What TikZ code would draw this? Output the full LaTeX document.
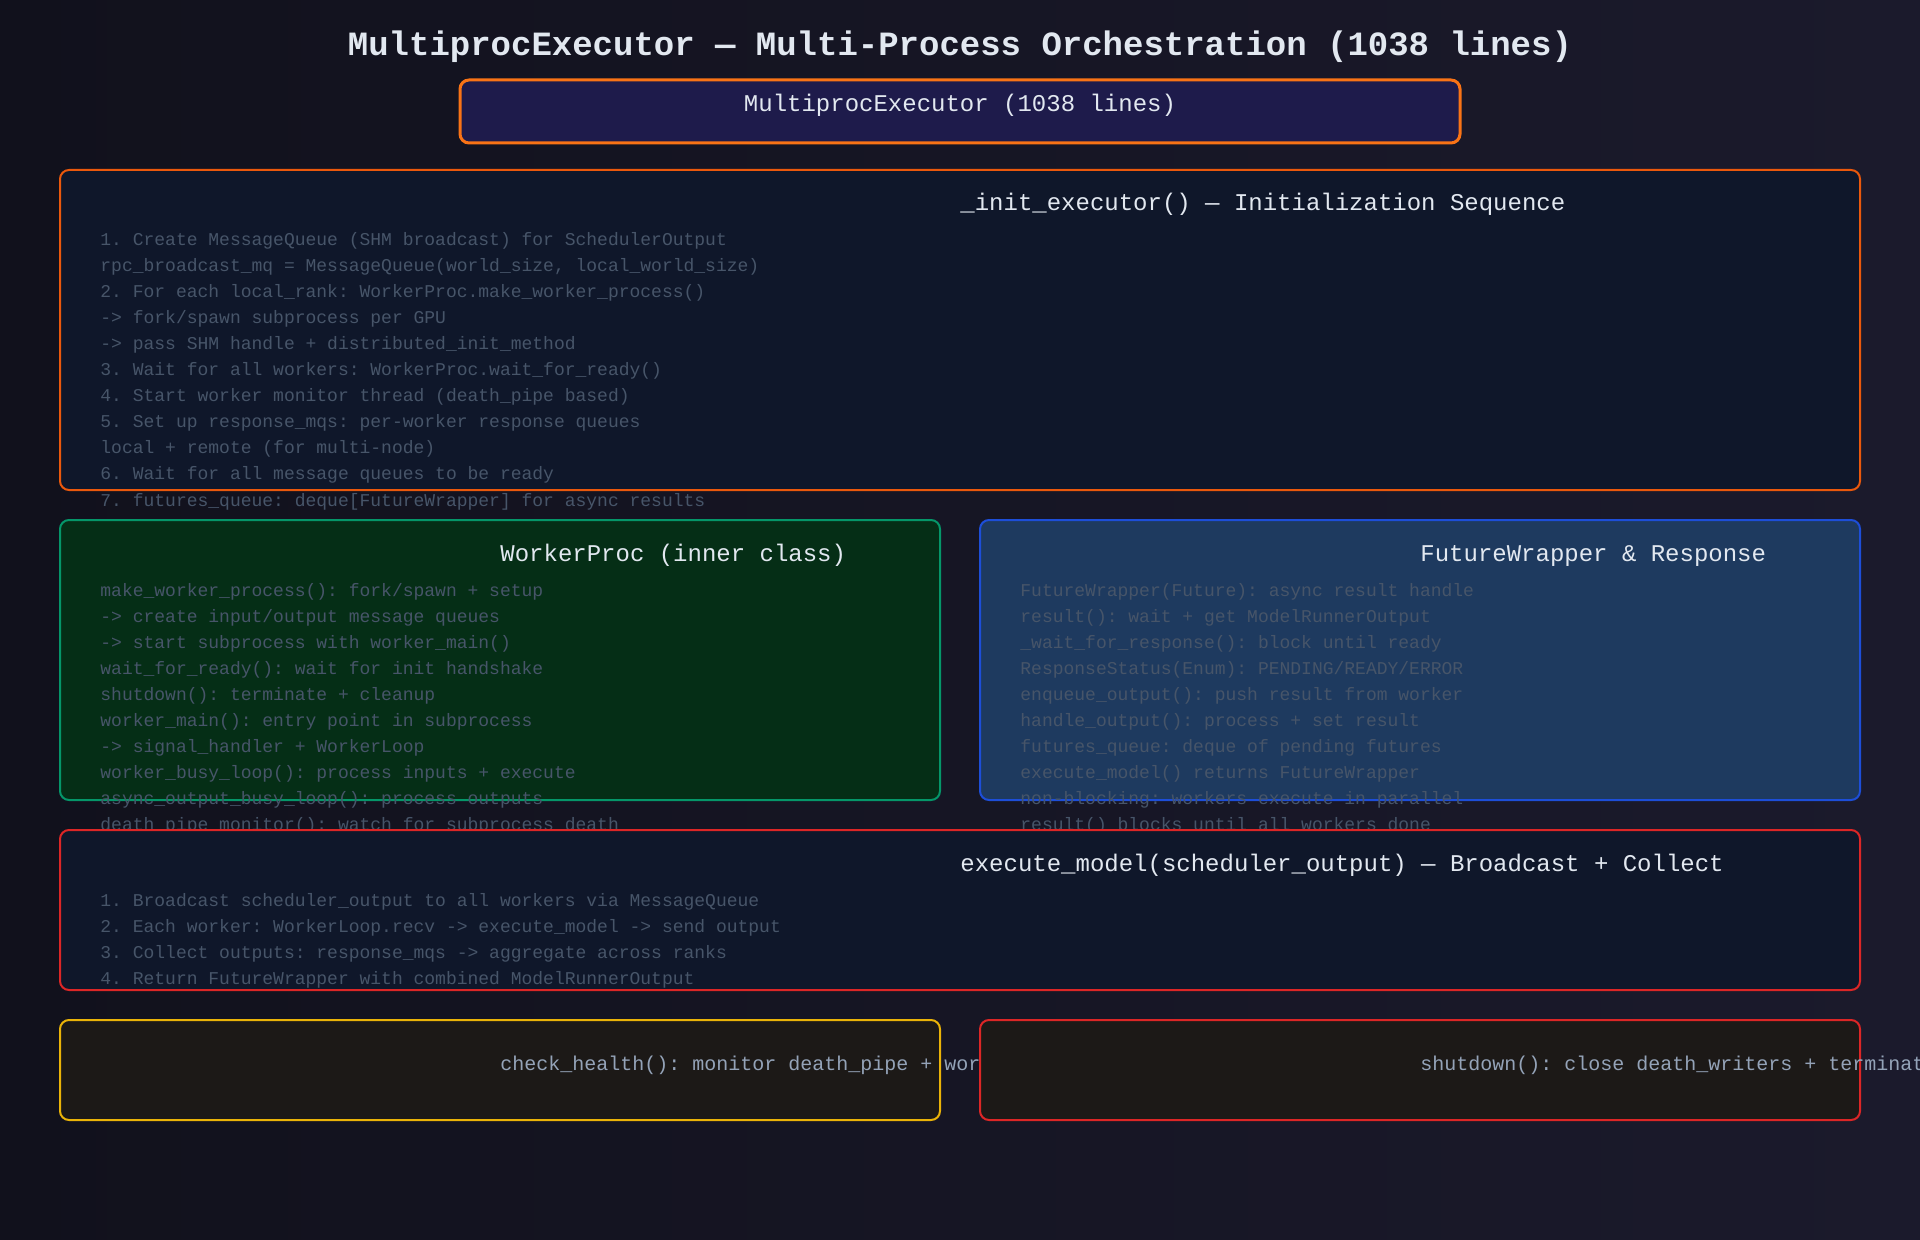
\documentclass[tikz,border=0pt]{standalone}
\usepackage{fontspec}
\setmonofont{Liberation Mono}
\newfontfamily\codefont{Liberation Mono}
\usetikzlibrary{positioning}
\frenchspacing

\definecolor{bgA}{HTML}{11111C}
\definecolor{bgB}{HTML}{1B1A2C}
\definecolor{orangeA}{HTML}{F97316}
\definecolor{orangeB}{HTML}{EA580C}
\definecolor{indigoFill}{HTML}{1E1B4B}
\definecolor{navyFill}{HTML}{0F172A}
\definecolor{greenFill}{HTML}{052E16}
\definecolor{greenLine}{HTML}{059669}
\definecolor{blueFill}{HTML}{1E3A5F}
\definecolor{blueLine}{HTML}{1D4ED8}
\definecolor{redLine}{HTML}{DC2626}
\definecolor{yellowLine}{HTML}{EAB308}
\definecolor{stoneFill}{HTML}{1C1917}
\definecolor{titleTxt}{HTML}{E2E8F0}
\definecolor{listTxt}{HTML}{475569}
\definecolor{noteTxt}{HTML}{94A3B8}

\tikzset{
  panel/.style={rounded corners=4.5pt, line width=1pt},
  paneltitle/.style={anchor=base west, inner sep=0pt, text=titleTxt, font=\codefont\fontsize{12}{14}\selectfont},
  listline/.style={anchor=base west, inner sep=0pt, text=listTxt, font=\codefont\fontsize{9}{11}\selectfont},
  notetxt/.style={anchor=base west, inner sep=0pt, text=noteTxt, font=\codefont\fontsize{10}{12}\selectfont}
}

\begin{document}
\begin{tikzpicture}[x=0.5pt, y=-0.5pt]
  \useasboundingbox (0,0) rectangle (1920,1240);
  \clip (0,0) rectangle (1920,1240);
  \shade[left color=bgA, right color=bgB] (0,0) rectangle (1920,1240);

  % heading
  \node[anchor=base, inner sep=0pt, text=titleTxt, font=\codefont\bfseries\fontsize{17}{20}\selectfont] (heading) at (960,56)
    {MultiprocExecutor — Multi-Process Orchestration (1038 lines)};

  % top box
  \draw[rounded corners=4.5pt, line width=1.5pt, draw=orangeA, fill=indigoFill] (460,80) rectangle (1460,143);
  \node[anchor=base, inner sep=0pt, text=titleTxt, font=\codefont\fontsize{12}{14}\selectfont] (executor) at (960,112)
    {MultiprocExecutor (1038 lines)};

  % init sequence
  \draw[panel, draw=orangeB, fill=navyFill] (60,170) rectangle (1860,490);
  \node[paneltitle] (init) at (960,211) {\_init\_executor() — Initialization Sequence};
  \foreach \txt [count=\i from 0] in {
      {1. Create MessageQueue (SHM broadcast) for SchedulerOutput},
      {rpc\_broadcast\_mq = MessageQueue(world\_size, local\_world\_size)},
      {2. For each local\_rank: WorkerProc.make\_worker\_process()},
      {-> fork/spawn subprocess per GPU},
      {-> pass SHM handle + distributed\_init\_method},
      {3. Wait for all workers: WorkerProc.wait\_for\_ready()},
      {4. Start worker monitor thread (death\_pipe based)},
      {5. Set up response\_mqs: per-worker response queues},
      {local + remote (for multi-node)},
      {6. Wait for all message queues to be ready},
      {7. futures\_queue: deque[FutureWrapper] for async results}}
    \node[listline] (init-\i) at (100,246+26*\i) {\txt};

  % worker proc
  \draw[panel, draw=greenLine, fill=greenFill] (60,520) rectangle (940,800);
  \node[paneltitle] (worker) at (500,561) {WorkerProc (inner class)};
  \foreach \txt [count=\i from 0] in {
      {make\_worker\_process(): fork/spawn + setup},
      {-> create input/output message queues},
      {-> start subprocess with worker\_main()},
      {wait\_for\_ready(): wait for init handshake},
      {shutdown(): terminate + cleanup},
      {worker\_main(): entry point in subprocess},
      {-> signal\_handler + WorkerLoop},
      {worker\_busy\_loop(): process inputs + execute},
      {async\_output\_busy\_loop(): process outputs},
      {death\_pipe\_monitor(): watch for subprocess death}}
    \node[listline] (worker-\i) at (100,596+26*\i) {\txt};

  % future wrapper
  \draw[panel, draw=blueLine, fill=blueFill] (980,520) rectangle (1860,800);
  \node[paneltitle] (future) at (1420,561) {FutureWrapper \& Response};
  \foreach \txt [count=\i from 0] in {
      {FutureWrapper(Future): async result handle},
      {result(): wait + get ModelRunnerOutput},
      {\_wait\_for\_response(): block until ready},
      {ResponseStatus(Enum): PENDING/READY/ERROR},
      {enqueue\_output(): push result from worker},
      {handle\_output(): process + set result},
      {futures\_queue: deque of pending futures},
      {execute\_model() returns FutureWrapper},
      {non-blocking: workers execute in parallel},
      {result() blocks until all workers done}}
    \node[listline] (future-\i) at (1020,596+26*\i) {\txt};

  % execute model
  \draw[panel, draw=redLine, fill=navyFill] (60,830) rectangle (1860,990);
  \node[paneltitle] (execute) at (960,871) {execute\_model(scheduler\_output) — Broadcast + Collect};
  \foreach \txt [count=\i from 0] in {
      {1. Broadcast scheduler\_output to all workers via MessageQueue},
      {2. Each worker: WorkerLoop.recv -> execute\_model -> send output},
      {3. Collect outputs: response\_mqs -> aggregate across ranks},
      {4. Return FutureWrapper with combined ModelRunnerOutput}}
    \node[listline] (execute-\i) at (100,906+26*\i) {\txt};

  % health + shutdown
  \draw[panel, draw=yellowLine, fill=stoneFill] (60,1020) rectangle (940,1120);
  \node[notetxt] (health) at (500,1070) {check\_health(): monitor death\_pipe + wor};
  \draw[panel, draw=redLine, fill=stoneFill] (980,1020) rectangle (1860,1120);
  \node[notetxt] (shutdown) at (1420,1070) {shutdown(): close death\_writers + terminat};
\end{tikzpicture}
\end{document}
